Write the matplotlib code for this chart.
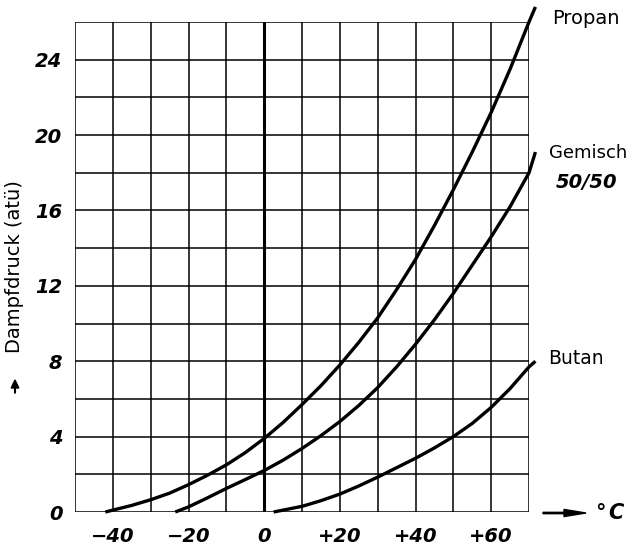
import matplotlib
matplotlib.use("Agg")
import matplotlib.pyplot as plt

# ---- data ----
propan_t = [-42, -35, -30, -25, -20, -15, -10, -5, 0, 5, 10, 15, 20, 25, 30,
            35, 40, 45, 50, 55, 60, 65, 70, 71.7]
propan_p = [0, 0.35, 0.65, 1.0, 1.45, 1.95, 2.5, 3.15, 3.9, 4.75, 5.7, 6.7, 7.8,
            9.0, 10.3, 11.8, 13.4, 15.2, 17.1, 19.1, 21.2, 23.5, 26.0, 26.8]

gemisch_t = [-23.5, -20, -15, -10, -5, 0, 5, 10, 15, 20, 25, 30, 35, 40, 45,
             50, 55, 60, 65, 70, 71.7]
gemisch_p = [0, 0.27, 0.75, 1.25, 1.72, 2.2, 2.75, 3.37, 4.05, 4.8, 5.65, 6.6,
             7.7, 8.9, 10.2, 11.6, 13.1, 14.6, 16.2, 18.0, 19.1]

butan_t = [2.5, 5, 10, 15, 20, 25, 30, 35, 40, 45, 50, 55, 60, 65, 70, 71.7]
butan_p = [0, 0.1, 0.3, 0.6, 0.95, 1.38, 1.85, 2.35, 2.85, 3.4, 4.0, 4.7,
           5.55, 6.55, 7.7, 8.0]

x_ticks = [-40, -20, 0, 20, 40, 60]
x_ticklabels = ["\u221240", "\u221220", "0", "+20", "+40", "+60"]
y_ticks = [0, 4, 8, 12, 16, 20, 24]
y_ticklabels = ["0", "4", "8", "12", "16", "20", "24"]

curve_labels = ["Propan", "Gemisch", "Butan"]

# ---- figure ----
fig = plt.figure(figsize=(6.36, 5.49), dpi=100)
ax = fig.add_axes([75/636, 37/549, 454/636, 490/549])
ax.set_xlim(-50, 70)
ax.set_ylim(0, 26)

# grid
for x in range(-50, 71, 10):
    ax.axvline(x, color="black", lw=2.2 if x == 0 else 1.1, zorder=1)
for y in range(0, 27, 2):
    ax.axhline(y, color="black", lw=1.1, zorder=1)

for s in ax.spines.values():
    s.set_visible(False)

ax.set_xticks(x_ticks)
ax.set_xticklabels(x_ticklabels)
ax.set_yticks(y_ticks)
ax.set_yticklabels(y_ticklabels)
ax.tick_params(length=0, labelsize=14)
ax.tick_params(axis="x", pad=11)
ax.tick_params(axis="y", pad=9)
for lab in ax.get_xticklabels() + ax.get_yticklabels():
    lab.set_fontweight("bold")
    lab.set_fontstyle("italic")

# curves
for t, p in [(propan_t, propan_p), (gemisch_t, gemisch_p), (butan_t, butan_p)]:
    ax.plot(t, p, color="black", lw=2.4, clip_on=False, zorder=3,
            solid_capstyle="butt", solid_joinstyle="round")

# curve labels
fig.text(552/636, 1 - 18/549, curve_labels[0], fontsize=14, va="center", ha="left")
fig.text(549/636, 1 - 153/549, curve_labels[1], fontsize=13, va="center", ha="left")
fig.text(587/636, 1 - 183/549, "50/50", fontsize=14, va="center", ha="center",
         fontweight="bold", fontstyle="italic")
fig.text(548/636, 1 - 358/549, curve_labels[2], fontsize=13.5, va="center", ha="left")

# y axis label with arrow
fig.text(15/636, 1 - 267/549, "Dampfdruck (at\u00fc)", rotation=90, fontsize=14,
         va="center", ha="center")
fig.patches.append(matplotlib.patches.FancyArrow(
    15/636, 1 - 393/549, 0, 13/549, width=0.0012, head_width=0.012,
    head_length=8/549, length_includes_head=True, color="black",
    transform=fig.transFigure, figure=fig))

# x axis label with arrow
fig.patches.append(matplotlib.patches.FancyArrow(
    543/636, 1 - 513/549, 43/636, 0, width=0.0025, head_width=0.013,
    head_length=22/636, length_includes_head=True, color="black",
    transform=fig.transFigure, figure=fig))
fig.text(595/636, 1 - 513/549, "\u00b0", fontsize=15, va="center", ha="left",
         fontweight="bold")
fig.text(608/636, 1 - 513/549, "C", fontsize=15, va="center", ha="left",
         fontweight="bold", fontstyle="italic")

fig.savefig("out.png", dpi=100)
